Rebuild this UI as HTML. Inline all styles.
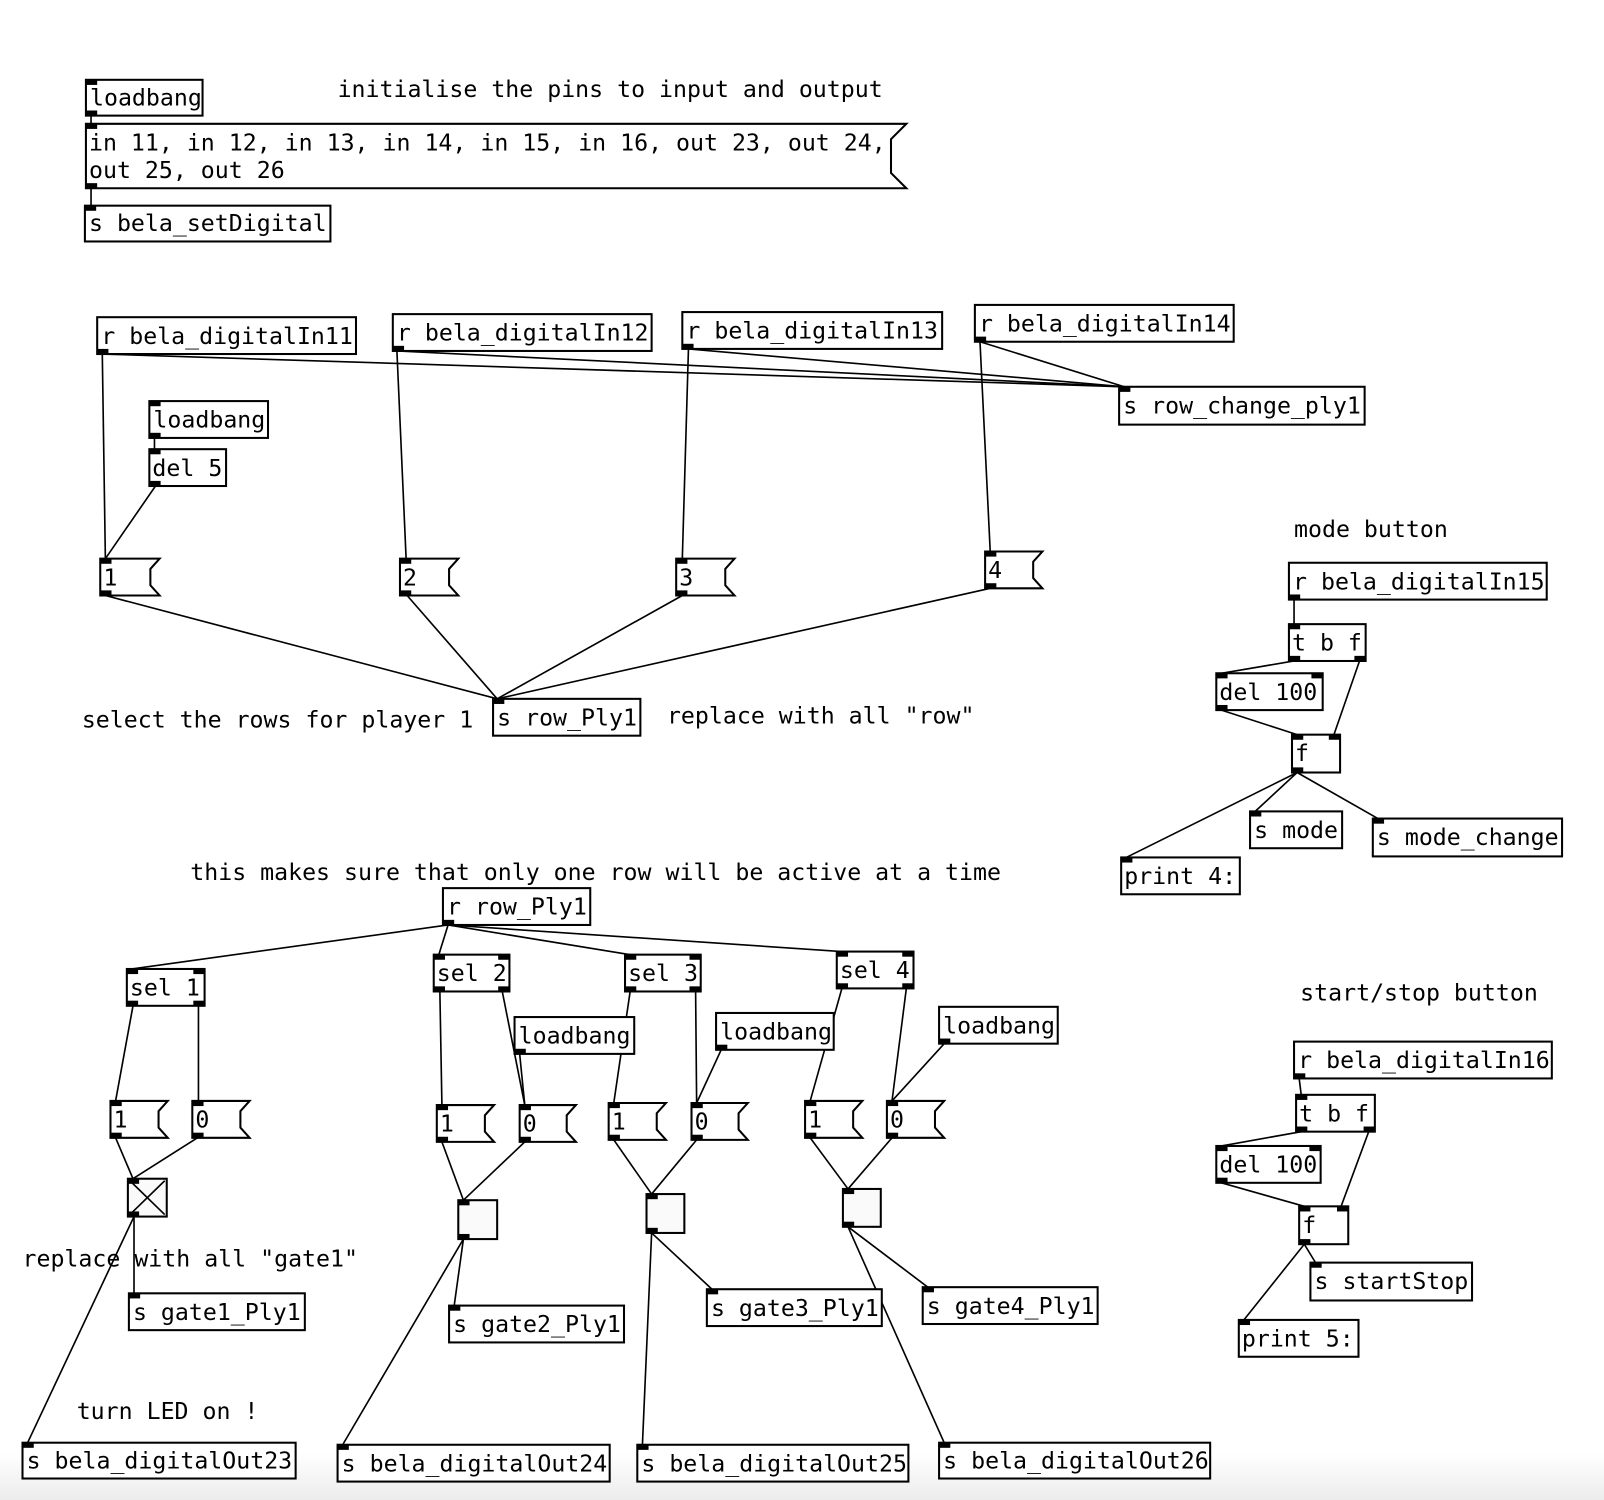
<!DOCTYPE html>
<html><head><meta charset="utf-8"><style>
html,body{margin:0;padding:0;background:#fff}
svg{display:block}
text{font-family:"DejaVu Sans Mono","Liberation Mono",monospace;font-size:22.7px;fill:#000}
.b{fill:#fff;stroke:#000;stroke-width:2}
.c{stroke:#000;stroke-width:1.6;fill:none}
.p{fill:#000;transform:scale(1,1)}
</style></head><body>
<svg width="1604" height="1500" viewBox="0 0 1568 1466" preserveAspectRatio="none" xmlns="http://www.w3.org/2000/svg">
<defs><linearGradient id="g" x1="0" y1="0" x2="0" y2="1"><stop offset="0" stop-color="#fff"/><stop offset="1" stop-color="#ececec"/></linearGradient></defs>
<rect x="0" y="1420" width="1568" height="46" fill="url(#g)"/>

<g class="c">
<line x1="89" y1="113" x2="89" y2="121"/><line x1="89" y1="184" x2="89" y2="201"/>
<line x1="100" y1="346" x2="103" y2="546"/><line x1="100" y1="346" x2="1099" y2="378"/>
<line x1="388" y1="343" x2="397" y2="546"/><line x1="388" y1="343" x2="1099" y2="378"/>
<line x1="673" y1="341" x2="667" y2="546"/><line x1="673" y1="341" x2="1099" y2="378"/>
<line x1="958" y1="334" x2="968" y2="539"/><line x1="958" y1="334" x2="1099" y2="378"/>
<line x1="151" y1="428" x2="151" y2="439"/><line x1="152" y1="475" x2="103" y2="546"/>
<line x1="103" y1="582" x2="486" y2="683"/><line x1="398" y1="582" x2="486" y2="683"/>
<line x1="667" y1="582" x2="486" y2="683"/><line x1="968" y1="575" x2="486" y2="683"/>
<line x1="1265" y1="586" x2="1265" y2="610"/><line x1="1265" y1="646" x2="1194" y2="658"/>
<line x1="1329" y1="646" x2="1304" y2="718"/><line x1="1194" y1="694" x2="1268" y2="718"/>
<line x1="1268" y1="755" x2="1227" y2="793"/><line x1="1268" y1="755" x2="1347" y2="800"/><line x1="1268" y1="755" x2="1101" y2="838"/>
<line x1="438" y1="904" x2="129" y2="947"/><line x1="438" y1="904" x2="429" y2="933"/>
<line x1="438" y1="904" x2="616" y2="933"/><line x1="438" y1="904" x2="823" y2="930"/>
<line x1="130" y1="983" x2="113" y2="1076"/><line x1="194" y1="983" x2="194" y2="1076"/>
<line x1="113" y1="1112" x2="130" y2="1152"/><line x1="193" y1="1112" x2="130" y2="1152"/>
<line x1="131" y1="1189" x2="131" y2="1264"/><line x1="131" y1="1189" x2="27" y2="1410"/>
<line x1="430" y1="969" x2="432" y2="1080"/><line x1="491" y1="969" x2="513" y2="1080"/><line x1="508" y1="1030" x2="513" y2="1080"/>
<line x1="432" y1="1116" x2="453" y2="1173"/><line x1="513" y1="1116" x2="453" y2="1173"/>
<line x1="453" y1="1211" x2="444" y2="1276"/><line x1="453" y1="1211" x2="335" y2="1412"/>
<line x1="616" y1="969" x2="600" y2="1078"/><line x1="680" y1="969" x2="681" y2="1078"/><line x1="705" y1="1026" x2="681" y2="1078"/>
<line x1="600" y1="1114" x2="637" y2="1167"/><line x1="681" y1="1114" x2="637" y2="1167"/>
<line x1="637" y1="1205" x2="696" y2="1260"/><line x1="637" y1="1205" x2="628" y2="1412"/>
<line x1="823" y1="966" x2="792" y2="1076"/><line x1="886" y1="966" x2="872" y2="1076"/><line x1="923" y1="1020" x2="872" y2="1076"/>
<line x1="792" y1="1112" x2="829" y2="1162"/><line x1="872" y1="1112" x2="829" y2="1162"/>
<line x1="829" y1="1199" x2="907" y2="1258"/><line x1="829" y1="1199" x2="923" y2="1410"/>
<line x1="1270" y1="1054" x2="1272" y2="1070"/><line x1="1272" y1="1106" x2="1194" y2="1120"/>
<line x1="1338" y1="1106" x2="1311" y2="1179"/><line x1="1194" y1="1156" x2="1275" y2="1179"/>
<line x1="1275" y1="1216" x2="1286" y2="1234"/><line x1="1275" y1="1216" x2="1216" y2="1290"/>
</g>

<text x="330" y="95">initialise the pins to input and output</text>
<text x="80" y="711">select the rows for player 1</text>
<text x="652" y="707">replace with all "row"</text>
<text x="1265" y="525">mode button</text>
<text x="186" y="860">this makes sure that only one row will be active at a time</text>
<text x="1271" y="978">start/stop button</text>
<text x="22" y="1238">replace with all "gate1"</text>
<text x="75" y="1387">turn LED on !</text>

<g>
<rect class="b" x="84" y="78" width="114" height="35"/><rect class="p" x="84" y="78" width="11" height="5"/><rect class="p" x="84" y="108" width="11" height="5"/><text x="88" y="103">loadbang</text>
<path class="b" d="M84 121H886L871 136V169L886 184H84Z"/><rect class="p" x="84" y="121" width="11" height="5"/><rect class="p" x="84" y="179" width="11" height="5"/>
<text x="87" y="147">in 11, in 12, in 13, in 14, in 15, in 16, out 23, out 24,</text><text x="87" y="174">out 25, out 26</text>
<rect class="b" x="83" y="201" width="240" height="35"/><rect class="p" x="83" y="201" width="11" height="5"/><text x="87" y="226">s bela_setDigital</text>

<rect class="b" x="95" y="310" width="253" height="36"/><rect class="p" x="95" y="341" width="11" height="5"/><text x="99" y="336">r bela_digitalIn11</text>
<rect class="b" x="384" y="307" width="253" height="36"/><rect class="p" x="384" y="338" width="11" height="5"/><text x="388" y="333">r bela_digitalIn12</text>
<rect class="b" x="667" y="305" width="254" height="36"/><rect class="p" x="667" y="336" width="11" height="5"/><text x="671" y="331">r bela_digitalIn13</text>
<rect class="b" x="953" y="298" width="253" height="36"/><rect class="p" x="953" y="329" width="11" height="5"/><text x="957" y="324">r bela_digitalIn14</text>
<rect class="b" x="1094" y="378" width="240" height="37"/><rect class="p" x="1094" y="378" width="11" height="5"/><text x="1098" y="404">s row_change_ply1</text>
<rect class="b" x="146" y="392" width="116" height="36"/><rect class="p" x="146" y="392" width="11" height="5"/><rect class="p" x="146" y="423" width="11" height="5"/><text x="150" y="418">loadbang</text>
<rect class="b" x="146" y="439" width="75" height="36"/><rect class="p" x="146" y="439" width="11" height="5"/><rect class="p" x="146" y="470" width="11" height="5"/><text x="149" y="465">del 5</text>

<path class="b" d="M98 546H156L147 556V572L156 582H98Z"/><rect class="p" x="98" y="546" width="11" height="5"/><rect class="p" x="98" y="577" width="11" height="5"/><text x="101" y="572">1</text>
<path class="b" d="M391 546H448L439 556V572L448 582H391Z"/><rect class="p" x="391" y="546" width="11" height="5"/><rect class="p" x="391" y="577" width="11" height="5"/><text x="394" y="572">2</text>
<path class="b" d="M661 546H718L709 556V572L718 582H661Z"/><rect class="p" x="661" y="546" width="11" height="5"/><rect class="p" x="661" y="577" width="11" height="5"/><text x="664" y="572">3</text>
<path class="b" d="M963 539H1019L1010 549V565L1019 575H963Z"/><rect class="p" x="963" y="539" width="11" height="5"/><rect class="p" x="963" y="570" width="11" height="5"/><text x="966" y="565">4</text>
<rect class="b" x="482" y="683" width="144" height="36"/><rect class="p" x="482" y="683" width="11" height="5"/><text x="486" y="709">s row_Ply1</text>

<rect class="b" x="1260" y="550" width="252" height="36"/><rect class="p" x="1260" y="581" width="11" height="5"/><text x="1264" y="576">r bela_digitalIn15</text>
<rect class="b" x="1260" y="610" width="75" height="36"/><rect class="p" x="1260" y="610" width="11" height="5"/><rect class="p" x="1260" y="641" width="11" height="5"/><rect class="p" x="1324" y="641" width="11" height="5"/><text x="1263" y="636">t b f</text>
<rect class="b" x="1189" y="658" width="104" height="36"/><rect class="p" x="1189" y="658" width="11" height="5"/><rect class="p" x="1282" y="658" width="11" height="5"/><rect class="p" x="1189" y="689" width="11" height="5"/><text x="1192" y="684">del 100</text>
<rect class="b" x="1263" y="718" width="47" height="37"/><rect class="p" x="1263" y="718" width="11" height="5"/><rect class="p" x="1299" y="718" width="11" height="5"/><rect class="p" x="1263" y="750" width="11" height="5"/><text x="1266" y="744">f</text>
<rect class="b" x="1222" y="793" width="90" height="36"/><rect class="p" x="1222" y="793" width="11" height="5"/><text x="1226" y="819">s mode</text>
<rect class="b" x="1342" y="800" width="185" height="37"/><rect class="p" x="1342" y="800" width="11" height="5"/><text x="1346" y="826">s mode_change</text>
<rect class="b" x="1096" y="838" width="116" height="36"/><rect class="p" x="1096" y="838" width="11" height="5"/><text x="1099" y="864">print 4:</text>

<rect class="b" x="433" y="868" width="144" height="36"/><rect class="p" x="433" y="899" width="11" height="5"/><text x="437" y="894">r row_Ply1</text>
<rect class="b" x="124" y="947" width="76" height="36"/><rect class="p" x="124" y="947" width="11" height="5"/><rect class="p" x="189" y="947" width="11" height="5"/><rect class="p" x="124" y="978" width="11" height="5"/><rect class="p" x="189" y="978" width="11" height="5"/><text x="127" y="973">sel 1</text>
<rect class="b" x="424" y="933" width="74" height="36"/><rect class="p" x="424" y="933" width="11" height="5"/><rect class="p" x="487" y="933" width="11" height="5"/><rect class="p" x="424" y="964" width="11" height="5"/><rect class="p" x="487" y="964" width="11" height="5"/><text x="427" y="959">sel 2</text>
<rect class="b" x="611" y="933" width="74" height="36"/><rect class="p" x="611" y="933" width="11" height="5"/><rect class="p" x="674" y="933" width="11" height="5"/><rect class="p" x="611" y="964" width="11" height="5"/><rect class="p" x="674" y="964" width="11" height="5"/><text x="614" y="959">sel 3</text>
<rect class="b" x="818" y="930" width="75" height="36"/><rect class="p" x="818" y="930" width="11" height="5"/><rect class="p" x="882" y="930" width="11" height="5"/><rect class="p" x="818" y="961" width="11" height="5"/><rect class="p" x="882" y="961" width="11" height="5"/><text x="821" y="956">sel 4</text>

<rect class="b" x="503" y="994" width="117" height="36"/><rect class="p" x="503" y="1025" width="11" height="5"/><text x="507" y="1020">loadbang</text>
<rect class="b" x="700" y="990" width="115" height="36"/><rect class="p" x="700" y="1021" width="11" height="5"/><text x="704" y="1016">loadbang</text>
<rect class="b" x="918" y="984" width="116" height="36"/><rect class="p" x="918" y="1015" width="11" height="5"/><text x="922" y="1010">loadbang</text>

<path class="b" d="M108 1076H164L155 1086V1102L164 1112H108Z"/><rect class="p" x="108" y="1076" width="11" height="5"/><rect class="p" x="108" y="1107" width="11" height="5"/><text x="111" y="1102">1</text>
<path class="b" d="M188 1076H244L235 1086V1102L244 1112H188Z"/><rect class="p" x="188" y="1076" width="11" height="5"/><rect class="p" x="188" y="1107" width="11" height="5"/><text x="191" y="1102">0</text>
<path class="b" d="M427 1080H483L474 1090V1106L483 1116H427Z"/><rect class="p" x="427" y="1080" width="11" height="5"/><rect class="p" x="427" y="1111" width="11" height="5"/><text x="430" y="1106">1</text>
<path class="b" d="M508 1080H563L554 1090V1106L563 1116H508Z"/><rect class="p" x="508" y="1080" width="11" height="5"/><rect class="p" x="508" y="1111" width="11" height="5"/><text x="511" y="1106">0</text>
<path class="b" d="M595 1078H651L642 1088V1104L651 1114H595Z"/><rect class="p" x="595" y="1078" width="11" height="5"/><rect class="p" x="595" y="1109" width="11" height="5"/><text x="598" y="1104">1</text>
<path class="b" d="M676 1078H731L722 1088V1104L731 1114H676Z"/><rect class="p" x="676" y="1078" width="11" height="5"/><rect class="p" x="676" y="1109" width="11" height="5"/><text x="679" y="1104">0</text>
<path class="b" d="M787 1076H843L834 1086V1102L843 1112H787Z"/><rect class="p" x="787" y="1076" width="11" height="5"/><rect class="p" x="787" y="1107" width="11" height="5"/><text x="790" y="1102">1</text>
<path class="b" d="M867 1076H923L914 1086V1102L923 1112H867Z"/><rect class="p" x="867" y="1076" width="11" height="5"/><rect class="p" x="867" y="1107" width="11" height="5"/><text x="870" y="1102">0</text>

<rect class="b" x="125" y="1152" width="38" height="37" style="fill:#fafafa"/><path class="c" d="M127 1154L161 1187M161 1154L127 1187"/><rect class="p" x="125" y="1152" width="11" height="5"/><rect class="p" x="125" y="1184" width="11" height="5"/>
<rect class="b" x="448" y="1173" width="38" height="38" style="fill:#fafafa"/><rect class="p" x="448" y="1173" width="11" height="5"/><rect class="p" x="448" y="1206" width="11" height="5"/>
<rect class="b" x="632" y="1167" width="37" height="38" style="fill:#fafafa"/><rect class="p" x="632" y="1167" width="11" height="5"/><rect class="p" x="632" y="1200" width="11" height="5"/>
<rect class="b" x="824" y="1162" width="37" height="37" style="fill:#fafafa"/><rect class="p" x="824" y="1162" width="11" height="5"/><rect class="p" x="824" y="1194" width="11" height="5"/>

<rect class="b" x="126" y="1264" width="172" height="36"/><rect class="p" x="126" y="1264" width="11" height="5"/><text x="130" y="1290">s gate1_Ply1</text>
<rect class="b" x="439" y="1276" width="171" height="36"/><rect class="p" x="439" y="1276" width="11" height="5"/><text x="443" y="1302">s gate2_Ply1</text>
<rect class="b" x="691" y="1260" width="171" height="36"/><rect class="p" x="691" y="1260" width="11" height="5"/><text x="695" y="1286">s gate3_Ply1</text>
<rect class="b" x="902" y="1258" width="171" height="36"/><rect class="p" x="902" y="1258" width="11" height="5"/><text x="906" y="1284">s gate4_Ply1</text>

<rect class="b" x="22" y="1410" width="267" height="35"/><rect class="p" x="22" y="1410" width="11" height="5"/><text x="26" y="1435">s bela_digitalOut23</text>
<rect class="b" x="330" y="1412" width="266" height="36"/><rect class="p" x="330" y="1412" width="11" height="5"/><text x="334" y="1438">s bela_digitalOut24</text>
<rect class="b" x="623" y="1412" width="265" height="36"/><rect class="p" x="623" y="1412" width="11" height="5"/><text x="627" y="1438">s bela_digitalOut25</text>
<rect class="b" x="918" y="1410" width="265" height="35"/><rect class="p" x="918" y="1410" width="11" height="5"/><text x="922" y="1435">s bela_digitalOut26</text>

<rect class="b" x="1265" y="1018" width="252" height="36"/><rect class="p" x="1265" y="1049" width="11" height="5"/><text x="1269" y="1044">r bela_digitalIn16</text>
<rect class="b" x="1267" y="1070" width="77" height="36"/><rect class="p" x="1267" y="1070" width="11" height="5"/><rect class="p" x="1267" y="1101" width="11" height="5"/><rect class="p" x="1333" y="1101" width="11" height="5"/><text x="1270" y="1096">t b f</text>
<rect class="b" x="1189" y="1120" width="102" height="36"/><rect class="p" x="1189" y="1120" width="11" height="5"/><rect class="p" x="1280" y="1120" width="11" height="5"/><rect class="p" x="1189" y="1151" width="11" height="5"/><text x="1192" y="1146">del 100</text>
<rect class="b" x="1270" y="1179" width="48" height="37"/><rect class="p" x="1270" y="1179" width="11" height="5"/><rect class="p" x="1307" y="1179" width="11" height="5"/><rect class="p" x="1270" y="1211" width="11" height="5"/><text x="1273" y="1205">f</text>
<rect class="b" x="1281" y="1234" width="158" height="37"/><rect class="p" x="1281" y="1234" width="11" height="5"/><text x="1285" y="1260">s startStop</text>
<rect class="b" x="1211" y="1290" width="117" height="36"/><rect class="p" x="1211" y="1290" width="11" height="5"/><text x="1214" y="1316">print 5:</text>
</g>
</svg>
</body></html>
